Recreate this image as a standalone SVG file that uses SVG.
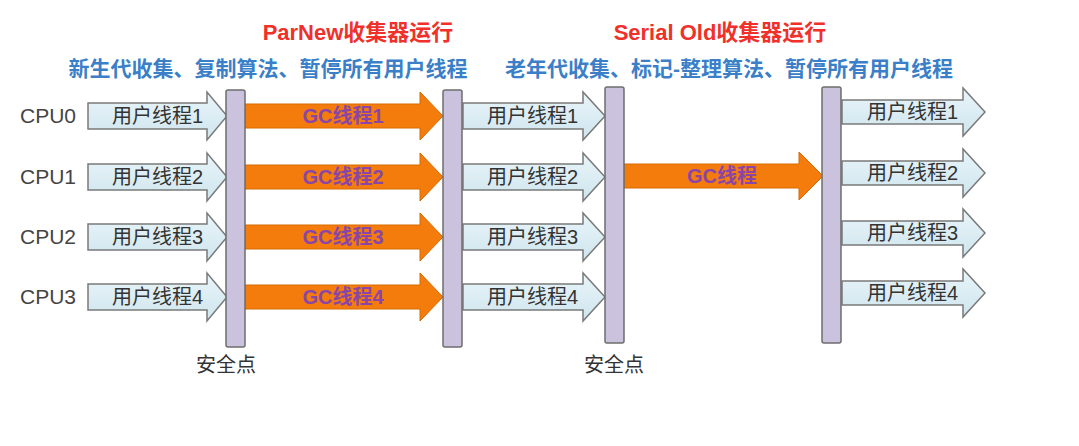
<svg xmlns="http://www.w3.org/2000/svg" width="1079" height="446" viewBox="0 0 1079 446">
<defs>
<linearGradient id="ug" x1="0" y1="0" x2="0" y2="1">
<stop offset="0" stop-color="#e9f5f9"/>
<stop offset="1" stop-color="#cfe5ee"/>
</linearGradient>
<style>
.bar{fill:#cbc3dd;stroke:#6e6e6e;stroke-width:1.5}
.ua{fill:url(#ug);stroke:#7a7a7a;stroke-width:1.5;stroke-linejoin:miter}
.ga{fill:#f47c0c;stroke:#d66a00;stroke-width:1}
.ut{font-family:"Liberation Sans","Noto Sans CJK SC",sans-serif;font-size:20px;fill:#333}
.gt{font-family:"Liberation Sans","Noto Sans CJK SC",sans-serif;font-size:20px;font-weight:bold;fill:#8a45a8;text-anchor:middle}
.cpu{font-family:"Liberation Sans","Noto Sans CJK SC",sans-serif;font-size:21px;fill:#444}
.red{font-family:"Liberation Sans","Noto Sans CJK SC",sans-serif;font-size:22px;font-weight:bold;fill:#f0302a;text-anchor:middle}
.blue{font-family:"Liberation Sans","Noto Sans CJK SC",sans-serif;font-size:21px;font-weight:bold;fill:#3a7fc8;text-anchor:middle}
.sp{font-family:"Liberation Sans","Noto Sans CJK SC",sans-serif;font-size:20px;fill:#333;text-anchor:middle}
</style>
</defs>
<rect width="1079" height="446" fill="#ffffff"/>

<g id="titles">
<text class="red" x="358" y="40">ParNew收集器运行</text>
<text class="blue" x="268" y="76">新生代收集、复制算法、暂停所有用户线程</text>
<text class="red" x="720" y="40">Serial Old收集器运行</text>
<text class="blue" x="729" y="76">老年代收集、标记-整理算法、暂停所有用户线程</text>
</g>

<g id="cpu-labels">
<text class="cpu" x="20" y="123">CPU0</text>
<text class="cpu" x="20" y="184">CPU1</text>
<text class="cpu" x="20" y="244">CPU2</text>
<text class="cpu" x="20" y="304">CPU3</text>
</g>

<g id="connectors">
<g id="u-left">
<path class="ua" d="M88,103 L207,103 L207,92 L227,116 L207,140 L207,129 L88,129 Z"/>
<path class="ua" d="M88,164 L207,164 L207,153 L227,177 L207,201 L207,190 L88,190 Z"/>
<path class="ua" d="M88,224 L207,224 L207,213 L227,237 L207,261 L207,250 L88,250 Z"/>
<path class="ua" d="M88,284 L207,284 L207,273 L227,297 L207,321 L207,310 L88,310 Z"/>
<text class="ut" x="112" y="123">用户线程1</text>
<text class="ut" x="112" y="184">用户线程2</text>
<text class="ut" x="112" y="244">用户线程3</text>
<text class="ut" x="112" y="304">用户线程4</text>
</g>
<g id="gc-parnew">
<path class="ga" d="M245,104 L420,104 L420,92 L443,116 L420,140 L420,128 L245,128 Z"/>
<path class="ga" d="M245,165 L420,165 L420,153 L443,177 L420,201 L420,189 L245,189 Z"/>
<path class="ga" d="M245,225 L420,225 L420,213 L443,237 L420,261 L420,249 L245,249 Z"/>
<path class="ga" d="M245,285 L420,285 L420,273 L443,297 L420,321 L420,309 L245,309 Z"/>
<text class="gt" x="343" y="123">GC线程1</text>
<text class="gt" x="343" y="184">GC线程2</text>
<text class="gt" x="343" y="244">GC线程3</text>
<text class="gt" x="343" y="304">GC线程4</text>
</g>
<g id="u-mid">
<path class="ua" d="M463,103 L583,103 L583,92 L605,116 L583,140 L583,129 L463,129 Z"/>
<path class="ua" d="M463,164 L583,164 L583,153 L605,177 L583,201 L583,190 L463,190 Z"/>
<path class="ua" d="M463,224 L583,224 L583,213 L605,237 L583,261 L583,250 L463,250 Z"/>
<path class="ua" d="M463,284 L583,284 L583,273 L605,297 L583,321 L583,310 L463,310 Z"/>
<text class="ut" x="487" y="123">用户线程1</text>
<text class="ut" x="487" y="184">用户线程2</text>
<text class="ut" x="487" y="244">用户线程3</text>
<text class="ut" x="487" y="304">用户线程4</text>
</g>
<g id="gc-serial">
<path class="ga" d="M624,164 L799,164 L799,152 L823,176 L799,200 L799,188 L624,188 Z"/>
<text class="gt" x="722" y="183">GC线程</text>
</g>
<g id="u-right">
<path class="ua" d="M842,100 L963,100 L963,88 L985,112 L963,136 L963,124 L842,124 Z"/>
<path class="ua" d="M842,161 L963,161 L963,149 L985,173 L963,197 L963,185 L842,185 Z"/>
<path class="ua" d="M842,221 L963,221 L963,209 L985,233 L963,257 L963,245 L842,245 Z"/>
<path class="ua" d="M842,281 L963,281 L963,269 L985,293 L963,317 L963,305 L842,305 Z"/>
<text class="ut" x="867" y="119">用户线程1</text>
<text class="ut" x="867" y="180">用户线程2</text>
<text class="ut" x="867" y="240">用户线程3</text>
<text class="ut" x="867" y="300">用户线程4</text>
</g>
</g>

<g id="safepoint1">
<rect class="bar" x="226" y="90" width="19" height="257" rx="2"/>
<text class="sp" x="226" y="372">安全点</text>
</g>
<g id="bar2">
<rect class="bar" x="443" y="90" width="19" height="257" rx="2"/>
</g>
<g id="safepoint2">
<rect class="bar" x="605" y="87" width="19" height="256" rx="2"/>
<text class="sp" x="614" y="372">安全点</text>
</g>
<g id="bar4">
<rect class="bar" x="822" y="87" width="19" height="256" rx="2"/>
</g>
</svg>
